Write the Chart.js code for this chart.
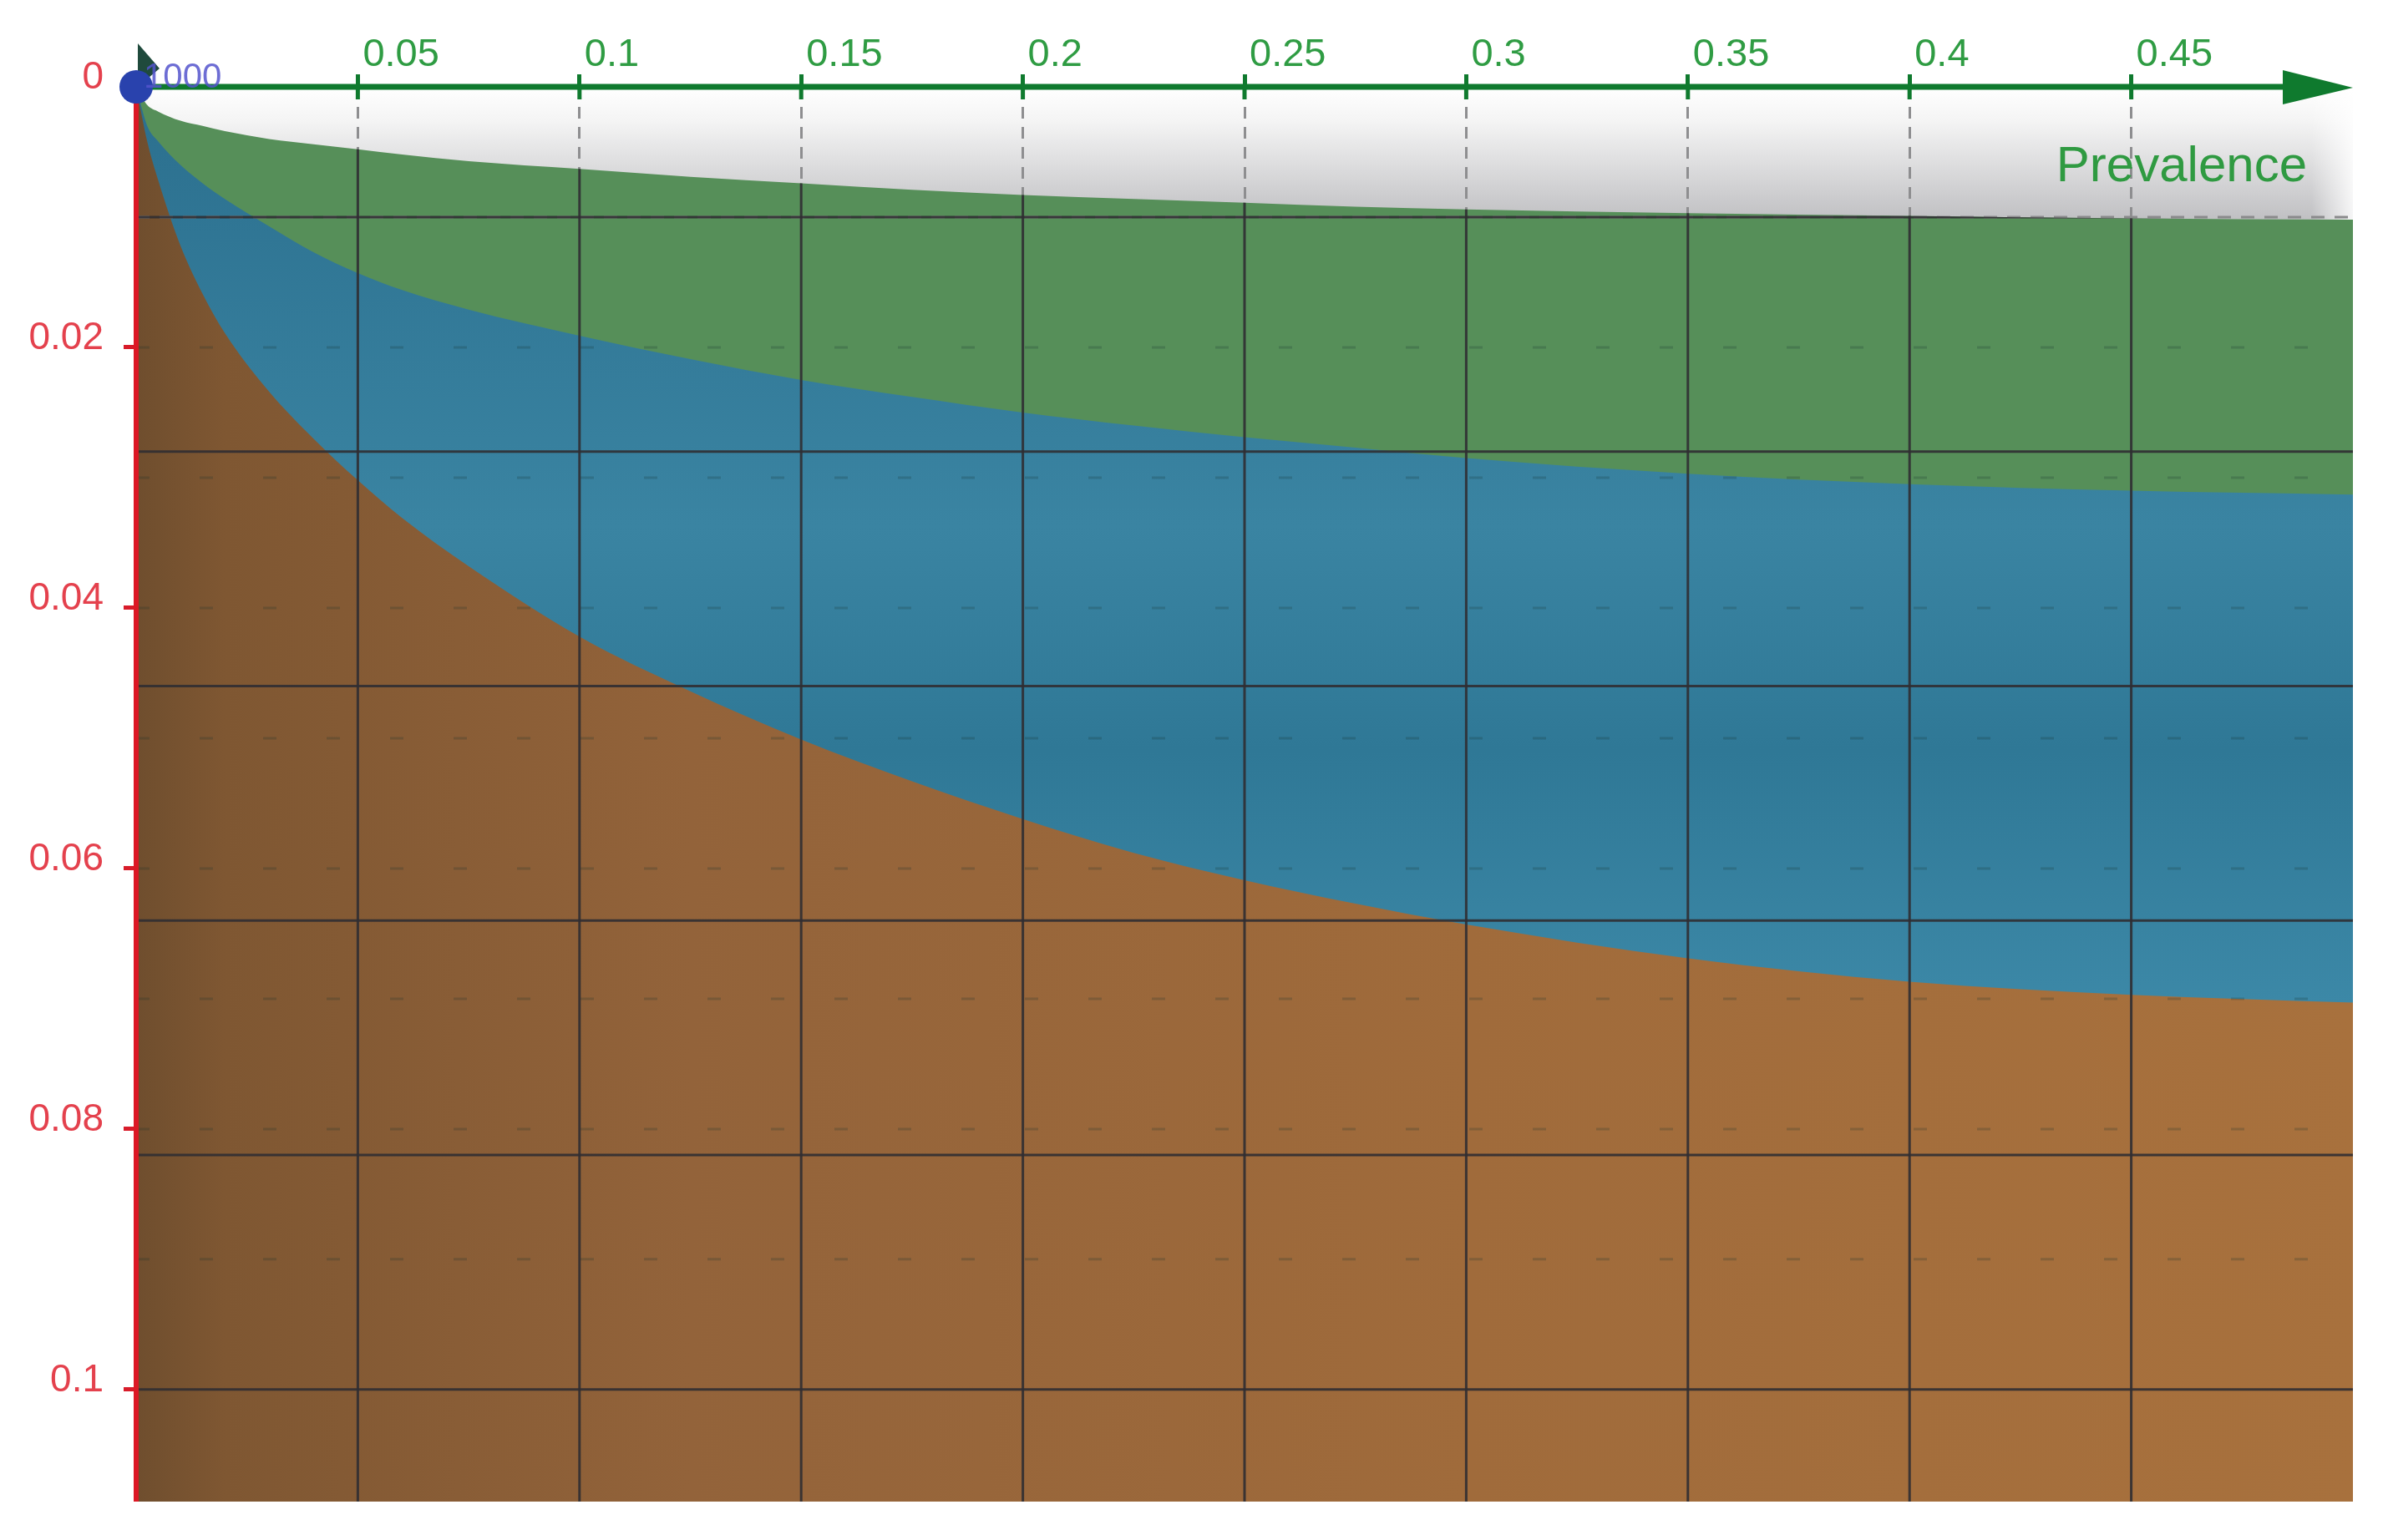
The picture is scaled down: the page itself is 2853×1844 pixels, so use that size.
<!DOCTYPE html>
<html lang="en">
  <head>
    <meta charset="UTF-8" />
    <title>Prevalence</title>
    <script src="https://cdn.jsdelivr.net/npm/chart.js"></script>
    <style>
      html,
      body {
        margin: 0;
        padding: 0;
        background: #ffffff;
      }
      canvas {
        display: block;
      }
    </style>
  </head>
  <body>
    <canvas id="prevChart" width="2853" height="1844"></canvas>

    <script>
      // prevalence (x) and the three surface edges (y, axis runs downward)
      const prevalence = [0, 0.0025, 0.005, 0.01, 0.015, 0.02, 0.03, 0.04, 0.05, 0.06, 0.075, 0.1, 0.125, 0.15, 0.175, 0.2, 0.225, 0.25, 0.275, 0.3, 0.35, 0.4, 0.45, 0.5];
      const greenTop = [0, 0.0014, 0.0019, 0.0026, 0.003, 0.0034, 0.004, 0.0044, 0.0048, 0.0052, 0.0057, 0.0063, 0.0069, 0.0074, 0.0079, 0.0083, 0.0086, 0.0089, 0.0092, 0.0094, 0.0097, 0.0099, 0.0101, 0.0102];
      const blueTop = [0, 0.003, 0.0042, 0.006, 0.0074, 0.0086, 0.0107, 0.0127, 0.0143, 0.0156, 0.0171, 0.0191, 0.0209, 0.0225, 0.0238, 0.025, 0.026, 0.0269, 0.0277, 0.0285, 0.0297, 0.0305, 0.031, 0.0313];
      const brownTop = [0, 0.0042, 0.0072, 0.0122, 0.0159, 0.0189, 0.0234, 0.027, 0.0302, 0.0331, 0.0368, 0.0422, 0.0464, 0.0501, 0.0533, 0.0562, 0.0588, 0.0609, 0.0627, 0.0643, 0.0669, 0.0687, 0.0697, 0.0703];

      const xTicks = [0.05, 0.1, 0.15, 0.2, 0.25, 0.3, 0.35, 0.4, 0.45];
      const yTicks = [0, 0.02, 0.04, 0.06, 0.08, 0.1];
      const planeRows = [0.01, 0.028, 0.046, 0.064, 0.082, 0.1];
      const dashRows = [0.02, 0.03, 0.04, 0.05, 0.06, 0.07, 0.08, 0.09];
      const xMax = 0.5;
      const yMax = 0.1086;

      Chart.defaults.font.family = "'Liberation Sans', Arial, sans-serif";

      const toPoints = (arr) => prevalence.map((p, i) => ({ x: p, y: arr[i] }));

      function brownFill(context) {
        const a = context.chart.chartArea;
        if (!a) return "#9a683a";
        const g = context.chart.ctx.createLinearGradient(a.left, 0, a.right, 0);
        g.addColorStop(0, "#6f4e2e");
        g.addColorStop(0.04, "#7f5732");
        g.addColorStop(0.25, "#93633a");
        g.addColorStop(0.6, "#a06b3b");
        g.addColorStop(1, "#a8713d");
        return g;
      }

      function blueFill(context) {
        const chart = context.chart;
        const a = chart.chartArea;
        if (!a) return "#34809e";
        const y = chart.scales.y;
        const g = chart.ctx.createLinearGradient(0, y.getPixelForValue(0), 0, y.getPixelForValue(0.075));
        g.addColorStop(0, "#2b6f8e");
        g.addColorStop(0.45, "#3a84a2");
        g.addColorStop(0.68, "#2f7896");
        g.addColorStop(1, "#3f8cab");
        return g;
      }

      function line(ctx, x1, y1, x2, y2) {
        ctx.beginPath();
        ctx.moveTo(x1, y1);
        ctx.lineTo(x2, y2);
        ctx.stroke();
      }

      const geoPlane = {
        id: "geoPlane",
        beforeDraw(chart) {
          const { ctx, chartArea: a, scales } = chart;
          const yb = scales.y.getPixelForValue(0.0106);
          ctx.save();
          const g = ctx.createLinearGradient(0, a.top, 0, yb);
          g.addColorStop(0, "#ffffff");
          g.addColorStop(0.25, "#f4f4f4");
          g.addColorStop(1, "#bdbdc0");
          ctx.fillStyle = g;
          ctx.fillRect(a.left, a.top, a.right - a.left, yb - a.top);
          const h = ctx.createLinearGradient(a.right - 50, 0, a.right, 0);
          h.addColorStop(0, "rgba(255,255,255,0)");
          h.addColorStop(1, "rgba(255,255,255,0.85)");
          ctx.fillStyle = h;
          ctx.fillRect(a.right - 50, a.top, 50, yb - a.top);
          ctx.restore();
        },
        beforeDatasetDraw(chart, args) {
          if (args.index !== 0) return;
          const { ctx, chartArea: a, scales } = chart;
          const x = scales.x;
          const y = scales.y;
          const x0 = x.getPixelForValue(0);
          const y0 = y.getPixelForValue(0);

          ctx.save();
          // hidden row of the plane at 0.01
          ctx.strokeStyle = "#8a8a8c";
          ctx.lineWidth = 3;
          ctx.setLineDash([16, 12]);
          const r1 = y.getPixelForValue(0.01);
          line(ctx, a.left, r1, a.right, r1);

          // everything below only shows on the surfaces
          const top = chart.getDatasetMeta(3).dataset;
          ctx.beginPath();
          top.path(ctx);
          ctx.lineTo(a.right, a.bottom);
          ctx.lineTo(a.left, a.bottom);
          ctx.closePath();
          ctx.clip();

          ctx.strokeStyle = "rgba(25,50,45,0.22)";
          ctx.setLineDash([16, 60]);
          dashRows.forEach((v) => {
            const py = y.getPixelForValue(v);
            line(ctx, a.left, py, a.right, py);
          });

          ctx.setLineDash([]);
          ctx.strokeStyle = "rgba(48,46,50,0.9)";
          ctx.lineWidth = 3;
          xTicks.forEach((v) => {
            const px = x.getPixelForValue(v);
            line(ctx, px, a.top, px, a.bottom);
          });
          planeRows.forEach((v) => {
            const py = y.getPixelForValue(v);
            line(ctx, a.left, py, a.right, py);
          });
          ctx.restore();

          // axes
          ctx.save();
          ctx.strokeStyle = "#dc1825";
          ctx.lineWidth = 6;
          line(ctx, x0, y0, x0, a.bottom);

          ctx.fillStyle = "#1f4a3c";
          ctx.beginPath();
          ctx.moveTo(x0 + 2, y0 - 52);
          ctx.lineTo(x0 + 2, y0);
          ctx.lineTo(x0 + 28, y0 - 22);
          ctx.closePath();
          ctx.fill();

          ctx.strokeStyle = "#0f7a2e";
          ctx.lineWidth = 7;
          line(ctx, x0, y0, a.right - 70, y0);
          ctx.fillStyle = "#0f7a2e";
          ctx.beginPath();
          ctx.moveTo(a.right - 84, y0 - 20);
          ctx.lineTo(a.right, y0 + 1);
          ctx.lineTo(a.right - 84, y0 + 21);
          ctx.closePath();
          ctx.fill();

          ctx.lineWidth = 5;
          xTicks.forEach((v) => {
            const px = x.getPixelForValue(v);
            line(ctx, px, y0, px, y0 + 15);
          });
          ctx.restore();
        },
        afterDraw(chart) {
          const { ctx, chartArea: a, scales } = chart;
          const x0 = scales.x.getPixelForValue(0);
          const y0 = scales.y.getPixelForValue(0);
          ctx.save();
          ctx.font = "42px 'Liberation Sans', Arial, sans-serif";
          ctx.fillStyle = "rgba(84,84,205,0.85)";
          ctx.textAlign = "left";
          ctx.textBaseline = "alphabetic";
          ctx.fillText("1000", x0 + 9, y0 + 1);

          ctx.font = "60px 'Liberation Sans', Arial, sans-serif";
          ctx.fillStyle = "#2f9a41";
          ctx.textAlign = "right";
          ctx.textBaseline = "middle";
          ctx.fillText("Prevalence", a.right - 55, a.top + 96);
          ctx.restore();
        },
      };

      const ctx = document.getElementById("prevChart").getContext("2d");
      new Chart(ctx, {
        type: "line",
        data: {
          datasets: [
            {
              type: "scatter",
              label: "origin",
              data: [{ x: 0, y: 0 }],
              pointRadius: 20,
              pointBackgroundColor: "#2942ad",
              pointBorderWidth: 0,
              clip: false,
            },
            {
              label: "brown",
              data: toPoints(brownTop),
              borderColor: "transparent",
              backgroundColor: brownFill,
              fill: { value: yMax },
              pointRadius: 0,
              cubicInterpolationMode: "monotone",
            },
            {
              label: "blue",
              data: toPoints(blueTop),
              borderColor: "transparent",
              backgroundColor: blueFill,
              fill: { value: yMax },
              pointRadius: 0,
              cubicInterpolationMode: "monotone",
            },
            {
              label: "green",
              data: toPoints(greenTop),
              borderColor: "transparent",
              backgroundColor: "#568f59",
              fill: { value: yMax },
              pointRadius: 0,
              cubicInterpolationMode: "monotone",
            },
          ],
        },
        options: {
          responsive: false,
          animation: false,
          events: [],
          layout: { padding: { top: 0, left: 0, right: 36, bottom: 46 } },
          scales: {
            x: {
              type: "linear",
              position: "top",
              min: 0,
              max: xMax,
              afterBuildTicks: (s) => {
                s.ticks = xTicks.map((v) => ({ value: v }));
              },
              afterFit: (s) => {
                s.height = 104;
              },
              grid: {
                color: "#8e8e90",
                lineWidth: 3,
                tickLength: 15,
                tickWidth: 5,
                tickColor: "#0f7a2e",
              },
              border: { display: false, dash: [14, 10] },
              ticks: {
                color: "#2f9c43",
                font: { size: 47 },
                align: "start",
                labelOffset: 6,
                padding: -5,
                maxRotation: 0,
                autoSkip: false,
                callback: (v) => String(v),
              },
            },
            y: {
              type: "linear",
              reverse: true,
              min: 0,
              max: yMax,
              afterBuildTicks: (s) => {
                s.ticks = yTicks.map((v) => ({ value: v }));
              },
              afterFit: (s) => {
                s.width = 163;
                s.paddingTop = 0;
                s.paddingBottom = 0;
              },
              grid: {
                drawOnChartArea: false,
                tickLength: 15,
                tickWidth: 5,
                tickColor: "#d81c2a",
              },
              border: { display: false },
              ticks: {
                color: "#e4414d",
                font: { size: 46 },
                padding: 24,
                labelOffset: -11,
                autoSkip: false,
                callback: (v) => String(v),
              },
            },
          },
          plugins: {
            legend: { display: false },
            tooltip: { enabled: false },
          },
        },
        plugins: [geoPlane],
      });
    </script>
  </body>
</html>
